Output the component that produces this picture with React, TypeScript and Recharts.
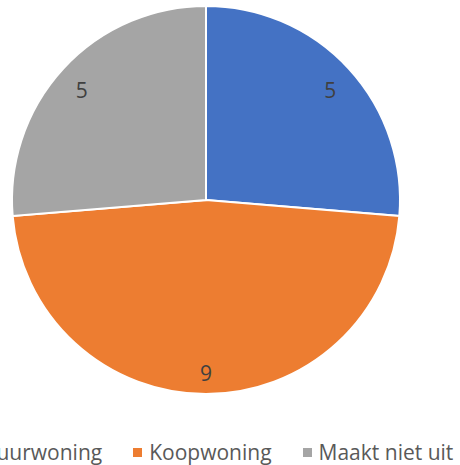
import { Cell, Legend, Pie, PieChart } from "recharts";

const categories = ["Huurwoning", "Koopwoning", "Maakt niet uit"];
const counts = [5, 9, 5];
const colors = ["#4472C4", "#ED7D31", "#A5A5A5"];

const data = categories.map((name, i) => ({ name, value: counts[i] }));

const FONT = "'Open Sans', sans-serif";
const RADIAN = Math.PI / 180;

function renderLabel(props: any) {
  const { cx, cy, midAngle, outerRadius, value } = props;
  const r = outerRadius * 0.87;
  const x = cx + r * Math.cos(-midAngle * RADIAN);
  const y = cy + r * Math.sin(-midAngle * RADIAN) + 4;
  return (
    <text
      x={x}
      y={y}
      fill="#404040"
      fontSize={21}
      fontFamily={FONT}
      textAnchor="middle"
      dominantBaseline="central"
    >
      {value}
    </text>
  );
}

function LegendContent() {
  return (
    <div style={{ display: "flex", alignItems: "center", whiteSpace: "nowrap" }}>
      {categories.map((name, i) => (
        <div
          key={name}
          style={{ display: "flex", alignItems: "center", marginRight: 31 }}
        >
          <span
            style={{
              width: 9,
              height: 9,
              background: colors[i],
              display: "inline-block",
              marginRight: 7,
            }}
          />
          <span style={{ fontFamily: FONT, fontSize: 21, color: "#595959" }}>
            {name}
          </span>
        </div>
      ))}
    </div>
  );
}

export default function App() {
  return (
    <div
      style={{
        position: "absolute",
        left: 0,
        top: 0,
        width: 460,
        height: 465,
        overflow: "hidden",
        background: "#fff",
      }}
    >
      <PieChart width={460} height={465}>
        <Pie
          data={data}
          dataKey="value"
          nameKey="name"
          cx={201}
          cy={195}
          outerRadius={194}
          startAngle={90}
          endAngle={-270}
          stroke="#ffffff"
          strokeWidth={2}
          label={renderLabel}
          labelLine={false}
          isAnimationActive={false}
        >
          {data.map((d, i) => (
            <Cell key={d.name} fill={colors[i]} />
          ))}
        </Pie>
        <Legend
          content={<LegendContent />}
          wrapperStyle={{ left: -35, top: 438, width: 600 }}
        />
      </PieChart>
    </div>
  );
}
